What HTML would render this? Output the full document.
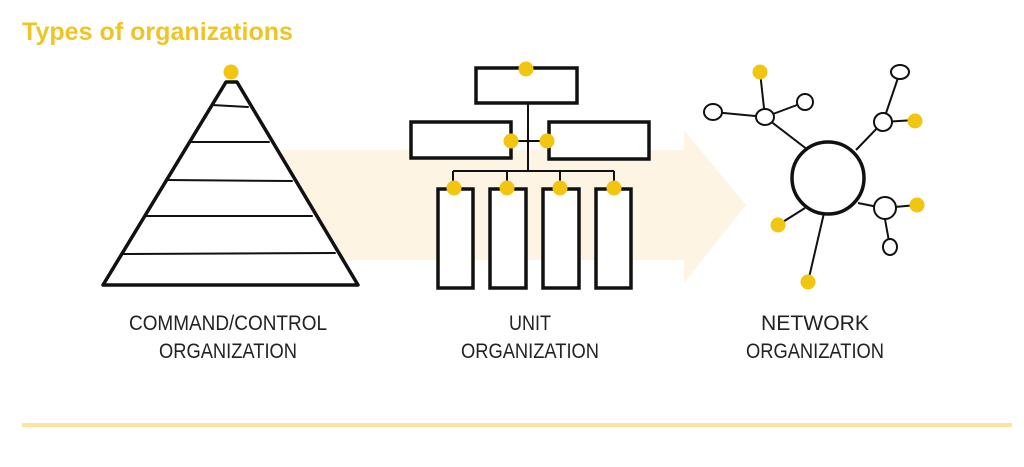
<!DOCTYPE html>
<html><head><meta charset="utf-8"><style>
html,body{margin:0;padding:0;background:#fff;}
svg{display:block;}
.lbl{font-family:"Liberation Sans",sans-serif;font-size:21px;font-weight:normal;fill:#222;}
</style></head><body>
<svg width="1024" height="467" viewBox="0 0 1024 467" xmlns="http://www.w3.org/2000/svg">
<text x="22" y="40" font-family="Liberation Sans, sans-serif" font-weight="bold" font-size="25" fill="#efc526" textLength="271" lengthAdjust="spacingAndGlyphs">Types of organizations</text>
<!-- arrow -->
<polygon points="282,150 684,150 684,130 746,205 684,283 684,260 282,260" fill="#fdf4e3"/>
<!-- pyramid -->
<g stroke="#111" fill="none" stroke-linecap="round">
<polygon points="226,82 237,82 358,285 103,285" fill="#fff" stroke-width="3.5" stroke-linejoin="round"/>
<path d="M212,105 L248,107 M190,142 L269,142 M167,180 L292,181 M146,216 L312,216 M124,254 L335,253" stroke-width="2"/>
</g>
<circle cx="231" cy="72" r="7.5" fill="#f2c511"/>
<!-- unit org -->
<g stroke="#111" fill="#fff" stroke-width="3.5">
<rect x="476" y="68" width="101" height="35"/>
<rect x="411" y="122" width="100" height="36"/>
<rect x="549" y="122" width="100" height="37"/>
<rect x="438" y="189" width="35" height="99"/>
<rect x="490" y="189" width="36" height="99"/>
<rect x="543" y="189" width="36" height="99"/>
<rect x="596" y="189" width="35" height="99"/>
</g>
<g stroke="#111" stroke-width="2" fill="none">
<path d="M528,103 V171 M453,171 H614 M453,171 V188 M507,171 V188 M560,171 V188 M614,171 V188 M510,141 H546"/>
</g>
<g fill="#f2c511">
<circle cx="526" cy="69" r="7.5"/><circle cx="511" cy="141" r="7.5"/><circle cx="547" cy="141" r="7.5"/>
<circle cx="454" cy="188" r="7.5"/><circle cx="507" cy="188" r="7.5"/><circle cx="560" cy="188" r="7.5"/><circle cx="614" cy="188" r="7.5"/>
</g>
<!-- network -->
<g stroke="#111" stroke-width="2" fill="none">
<path d="M808,150 L765,117 M765,117 L760,72 M765,117 L713,112 M765,117 L805,102 M856,150 L883,122 M883,122 L900,72 M883,122 L915,120 M858,203 L883,208 M883,208 L917,205 M883,208 L890,247 M805,208 L778,225 M824,213 L808,282"/>
</g>
<g stroke="#111" stroke-width="2" fill="#fff">
<ellipse cx="765" cy="117" rx="9" ry="8"/>
<ellipse cx="713" cy="112" rx="9" ry="8"/>
<ellipse cx="805" cy="102" rx="8" ry="8"/>
<ellipse cx="883" cy="122" rx="9" ry="9"/>
<ellipse cx="900" cy="72" rx="9" ry="7"/>
<ellipse cx="885" cy="208" rx="11" ry="11"/>
<ellipse cx="890" cy="247" rx="7" ry="8"/>
<circle cx="828" cy="178" r="36" stroke-width="3.5"/>
</g>
<g fill="#f2c511">
<circle cx="760" cy="72" r="7.5"/><circle cx="915" cy="121" r="7.5"/><circle cx="917" cy="205" r="7.5"/>
<circle cx="778" cy="225" r="7.5"/><circle cx="808" cy="282" r="7.5"/>
</g>
<!-- labels -->
<g class="lbl" text-anchor="middle">
<text x="228" y="330" textLength="198" lengthAdjust="spacingAndGlyphs">COMMAND/CONTROL</text>
<text x="228" y="358" textLength="138" lengthAdjust="spacingAndGlyphs">ORGANIZATION</text>
<text x="530" y="330" textLength="42" lengthAdjust="spacingAndGlyphs">UNIT</text>
<text x="530" y="358" textLength="138" lengthAdjust="spacingAndGlyphs">ORGANIZATION</text>
<text x="815" y="330" textLength="108" lengthAdjust="spacingAndGlyphs">NETWORK</text>
<text x="815" y="358" textLength="138" lengthAdjust="spacingAndGlyphs">ORGANIZATION</text>
</g>
<rect x="22" y="423" width="990" height="4" fill="#fde49c"/>
</svg>
</body></html>
